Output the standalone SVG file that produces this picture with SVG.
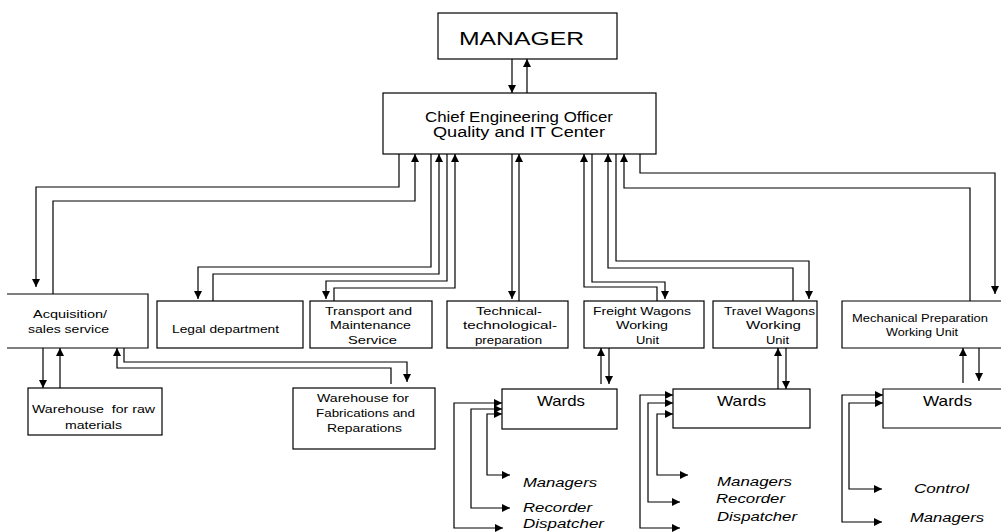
<svg xmlns="http://www.w3.org/2000/svg" width="1001" height="532" viewBox="0 0 1001 532">
<style>
.box{fill:#fff;stroke:#000;stroke-width:1.2}
.c{fill:none;stroke:#000;stroke-width:1.2}
text{font-family:"Liberation Sans",Arial,sans-serif;fill:#000}
.t{font-size:11.5px}
.i{font-size:12.5px;font-style:italic}
.w{font-size:15px}
</style>
<defs>
<marker id="a" viewBox="0 0 10 10" refX="10" refY="5" markerWidth="8" markerHeight="8" markerUnits="userSpaceOnUse" orient="auto-start-reverse">
<path d="M0,0 L10,5 L0,10 z" fill="#000"/>
</marker>
</defs>
<rect width="1001" height="532" fill="#fff"/>

<g id="connectors">
<path class="c" d="M512,59 V93" marker-end="url(#a)"/>
<path class="c" d="M527,93 V59" marker-end="url(#a)"/>
<path class="c" d="M399,154 V187 H36 V287" marker-end="url(#a)"/>
<path class="c" d="M53,294 V201 H415 V154" marker-end="url(#a)"/>
<path class="c" d="M431,154 V267 H198 V299" marker-end="url(#a)"/>
<path class="c" d="M213,301 V274 H439 V154" marker-end="url(#a)"/>
<path class="c" d="M447,154 V281 H326 V299" marker-end="url(#a)"/>
<path class="c" d="M334,301 V288 H455 V154" marker-end="url(#a)"/>
<path class="c" d="M512,154 V299" marker-end="url(#a)"/>
<path class="c" d="M519,301 V154" marker-end="url(#a)"/>
<path class="c" d="M657,301 V287 H584 V154" marker-end="url(#a)"/>
<path class="c" d="M592,154 V282 H665 V299" marker-end="url(#a)"/>
<path class="c" d="M793,301 V268 H608 V154" marker-end="url(#a)"/>
<path class="c" d="M616,154 V261 H809 V299" marker-end="url(#a)"/>
<path class="c" d="M970,301 V188 H624 V154" marker-end="url(#a)"/>
<path class="c" d="M640,154 V173 H995 V294" marker-end="url(#a)"/>
<path class="c" d="M43,348 V388" marker-end="url(#a)"/>
<path class="c" d="M60,388 V348" marker-end="url(#a)"/>
<path class="c" d="M124,348 V362 H407 V382" marker-end="url(#a)"/>
<path class="c" d="M391,384 V368 H117 V348" marker-end="url(#a)"/>
<path class="c" d="M601,384 V348" marker-end="url(#a)"/>
<path class="c" d="M609,348 V384" marker-end="url(#a)"/>
<path class="c" d="M778,389 V348" marker-end="url(#a)"/>
<path class="c" d="M786,348 V389" marker-end="url(#a)"/>
<path class="c" d="M963,383 V348" marker-end="url(#a)"/>
<path class="c" d="M979,348 V381" marker-end="url(#a)"/>
<path class="c" d="M502,403 H454 V528 H503" marker-start="url(#a)" marker-end="url(#a)"/>
<path class="c" d="M502,409 H471 V508 H510" marker-start="url(#a)" marker-end="url(#a)"/>
<path class="c" d="M502,414 H487 V475 H510" marker-start="url(#a)" marker-end="url(#a)"/>
<path class="c" d="M673,395 H640 V528 H680" marker-start="url(#a)" marker-end="url(#a)"/>
<path class="c" d="M673,403 H648 V502 H680" marker-start="url(#a)" marker-end="url(#a)"/>
<path class="c" d="M673,414 H657 V475 H688" marker-start="url(#a)" marker-end="url(#a)"/>
<path class="c" d="M883,395 H842 V522 H882" marker-start="url(#a)" marker-end="url(#a)"/>
<path class="c" d="M883,403 H849 V489 H882" marker-start="url(#a)" marker-end="url(#a)"/>
</g>

<g id="manager">
<rect class="box" x="438" y="13" width="179" height="46"/>
<text x="459" y="45" font-size="18.5" textLength="125" lengthAdjust="spacingAndGlyphs">MANAGER</text>
</g>
<g id="chief">
<rect class="box" x="383" y="93" width="273" height="61"/>
<text x="425" y="122" font-size="14" textLength="188" lengthAdjust="spacingAndGlyphs">Chief Engineering Officer</text>
<text x="433" y="137" font-size="14" textLength="172" lengthAdjust="spacingAndGlyphs">Quality and IT Center</text>
</g>
<g id="acquisition">
<path class="box" d="M7,294 H148 V348 H7"/>
<text class="t" x="33" y="318" textLength="74" lengthAdjust="spacingAndGlyphs">Acquisition/</text>
<text class="t" x="28" y="333" textLength="81" lengthAdjust="spacingAndGlyphs">sales service</text>
</g>
<g id="legal">
<rect class="box" x="157" y="301" width="146" height="47"/>
<text class="t" x="172" y="333" textLength="107" lengthAdjust="spacingAndGlyphs">Legal department</text>
</g>
<g id="transport">
<rect class="box" x="310" y="301" width="122" height="47"/>
<text class="t" x="325" y="315" textLength="87" lengthAdjust="spacingAndGlyphs">Transport and</text>
<text class="t" x="330" y="329" textLength="81" lengthAdjust="spacingAndGlyphs">Maintenance</text>
<text class="t" x="348" y="344" textLength="49" lengthAdjust="spacingAndGlyphs">Service</text>
</g>
<g id="technical">
<rect class="box" x="447" y="301" width="121" height="47"/>
<text class="t" x="476" y="315" textLength="66" lengthAdjust="spacingAndGlyphs">Technical-</text>
<text class="t" x="463" y="329" textLength="94" lengthAdjust="spacingAndGlyphs">technological-</text>
<text class="t" x="475" y="344" textLength="67" lengthAdjust="spacingAndGlyphs">preparation</text>
</g>
<g id="freight">
<rect class="box" x="584" y="301" width="120" height="47"/>
<text class="t" x="593" y="315" textLength="98" lengthAdjust="spacingAndGlyphs">Freight Wagons</text>
<text class="t" x="616" y="329" textLength="52" lengthAdjust="spacingAndGlyphs">Working</text>
<text class="t" x="636" y="344" textLength="23" lengthAdjust="spacingAndGlyphs">Unit</text>
</g>
<g id="travel">
<rect class="box" x="713" y="301" width="104" height="47"/>
<text class="t" x="724" y="315" textLength="91" lengthAdjust="spacingAndGlyphs">Travel Wagons</text>
<text class="t" x="746" y="329" textLength="55" lengthAdjust="spacingAndGlyphs">Working</text>
<text class="t" x="766" y="344" textLength="23" lengthAdjust="spacingAndGlyphs">Unit</text>
</g>
<g id="mechanical">
<path class="box" d="M1003,301 H842 V348 H1003"/>
<text class="t" x="852" y="322" textLength="136" lengthAdjust="spacingAndGlyphs">Mechanical Preparation</text>
<text class="t" x="886" y="336" textLength="72" lengthAdjust="spacingAndGlyphs">Working Unit</text>
</g>
<g id="warehouse-raw">
<rect class="box" x="28" y="388" width="134" height="47"/>
<text class="t" x="32" y="413" textLength="123" lengthAdjust="spacingAndGlyphs" xml:space="preserve">Warehouse  for raw</text>
<text class="t" x="65" y="429" textLength="57" lengthAdjust="spacingAndGlyphs">materials</text>
</g>
<g id="warehouse-fab">
<rect class="box" x="293" y="388" width="142" height="61"/>
<text class="t" x="317" y="402" textLength="92" lengthAdjust="spacingAndGlyphs">Warehouse for</text>
<text class="t" x="316" y="417" textLength="99" lengthAdjust="spacingAndGlyphs">Fabrications and</text>
<text class="t" x="327" y="432" textLength="75" lengthAdjust="spacingAndGlyphs">Reparations</text>
</g>
<g id="wards-1">
<rect class="box" x="502" y="389" width="115" height="40"/>
<text class="w" x="537" y="406" textLength="48" lengthAdjust="spacingAndGlyphs">Wards</text>
</g>
<g id="wards-2">
<rect class="box" x="673" y="389" width="137" height="39"/>
<text class="w" x="717" y="406" textLength="49" lengthAdjust="spacingAndGlyphs">Wards</text>
</g>
<g id="wards-3">
<path class="box" d="M1003,389 H883 V428 H1003"/>
<text class="w" x="923" y="406" textLength="49" lengthAdjust="spacingAndGlyphs">Wards</text>
</g>
<g id="labels-1">
<text class="i" x="523" y="487" textLength="74" lengthAdjust="spacingAndGlyphs">Managers</text>
<text class="i" x="523" y="512" textLength="69" lengthAdjust="spacingAndGlyphs">Recorder</text>
<text class="i" x="523" y="528" textLength="81" lengthAdjust="spacingAndGlyphs">Dispatcher</text>
</g>
<g id="labels-2">
<text class="i" x="717" y="486" textLength="75" lengthAdjust="spacingAndGlyphs">Managers</text>
<text class="i" x="716" y="503" textLength="69" lengthAdjust="spacingAndGlyphs">Recorder</text>
<text class="i" x="717" y="521" textLength="80" lengthAdjust="spacingAndGlyphs">Dispatcher</text>
</g>
<g id="labels-3">
<text class="i" x="914" y="493" textLength="55" lengthAdjust="spacingAndGlyphs">Control</text>
<text class="i" x="910" y="522" textLength="74" lengthAdjust="spacingAndGlyphs">Managers</text>
</g>
</svg>
